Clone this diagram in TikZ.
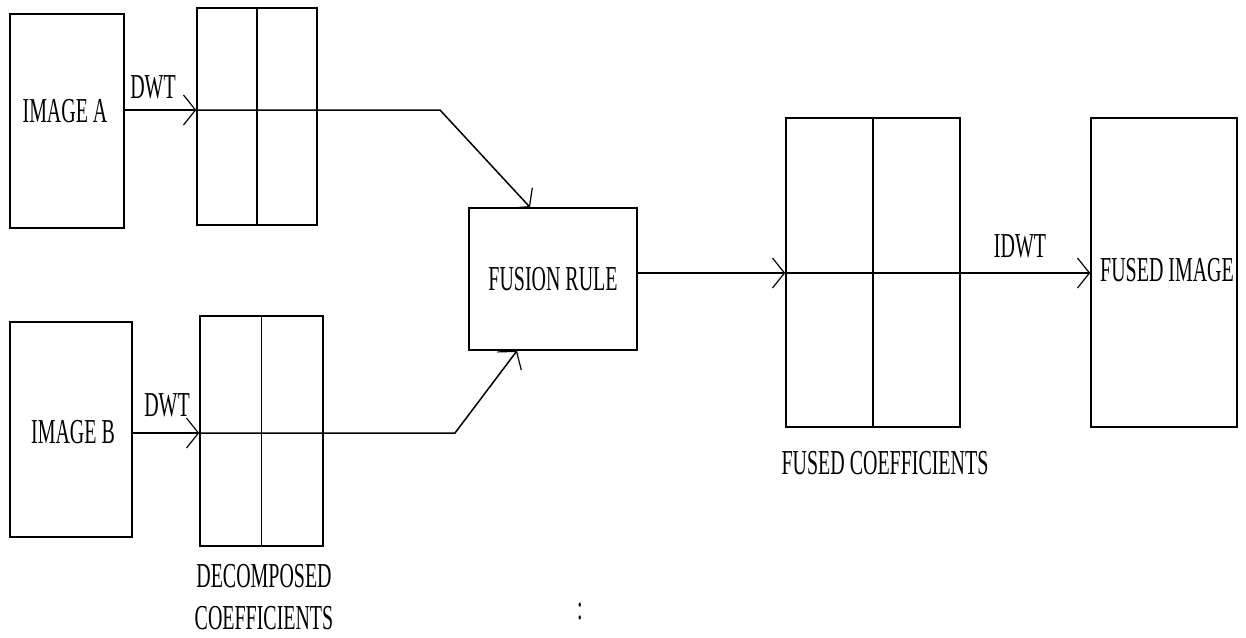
\documentclass[tikz,border=0pt]{standalone}
\usepackage{fontspec}
\setmainfont{Liberation Serif}[FakeStretch=0.57]
\usetikzlibrary{positioning,arrows.meta}

\begin{document}
\begin{tikzpicture}[x=1pt,y=-1pt,
  box/.style={draw,line width=1.5pt,inner sep=0pt,font=\fontsize{35}{43}\selectfont},
  lbl/.style={inner sep=0pt,align=center,font=\fontsize{35}{42}\selectfont},
  ln/.style={line width=1.5pt},
  arr/.style={line width=1.5pt,-{Straight Barb[length=12pt,width=30pt,line width=1.2pt]}}]
\useasboundingbox (0,0) rectangle (1246,637);
% boxes
\node[box,minimum width=114pt,minimum height=214pt] (imgA) at (67,121) {};
\node[box,minimum width=120pt,minimum height=217pt] (decA) at (257,116.5) {};
\node[box,minimum width=122pt,minimum height=215pt] (imgB) at (71,429.5) {};
\node[box,minimum width=123pt,minimum height=230pt] (decB) at (261.5,431) {};
\node[box,minimum width=168pt,minimum height=142pt] (fuse) at (553,279) {FUSION RULE};
\node[box,minimum width=174pt,minimum height=309pt] (fcoef) at (873,272.5) {};
\node[box,minimum width=146pt,minimum height=309pt] (fimg) at (1164,272.5) {};
% texts
\node[lbl] (tA) at (65,111) {IMAGE A};
\node[lbl] (tB) at (73,432) {IMAGE B};
\node[lbl] (tF) at (1167,270) {FUSED IMAGE};
\node[lbl] (dwtA) at (153,87) {DWT};
\node[lbl] (dwtB) at (167,405) {DWT};
\node[lbl] (idwt) at (1020,246) {IDWT};
\node[lbl] (decL) at (264,597) {DECOMPOSED\\COEFFICIENTS};
\node[lbl] (fcL) at (885,463) {FUSED COEFFICIENTS};
\node[lbl] (dots) at (580,612) {:};
% rows
\coordinate (yA) at (0,110);
\coordinate (yB) at (0,433);
\coordinate (yC) at (0,273);
\coordinate (kA) at (440,110);
\coordinate (kB) at (455,433);
\draw[ln] (decA.north) -- (decA.south);
\draw[ln] (decB.north) -- (decB.south);
\draw[ln] (fcoef.north) -- (fcoef.south);
\draw[arr] (imgA.east |- yA) -- (decA.west |- yA);
\draw[arr] (imgB.east |- yB) -- (decB.west |- yB);
\draw[arr] (decA.west |- yA) -- (kA) -- ([xshift=-23pt]fuse.north);
\draw[arr] (decB.west |- yB) -- (kB) -- ([xshift=-36pt]fuse.south);
\draw[arr] (fuse.east |- yC) -- (fcoef.west |- yC);
\draw[arr] (fcoef.west |- yC) -- (fimg.west |- yC);
\end{tikzpicture}
\end{document}
